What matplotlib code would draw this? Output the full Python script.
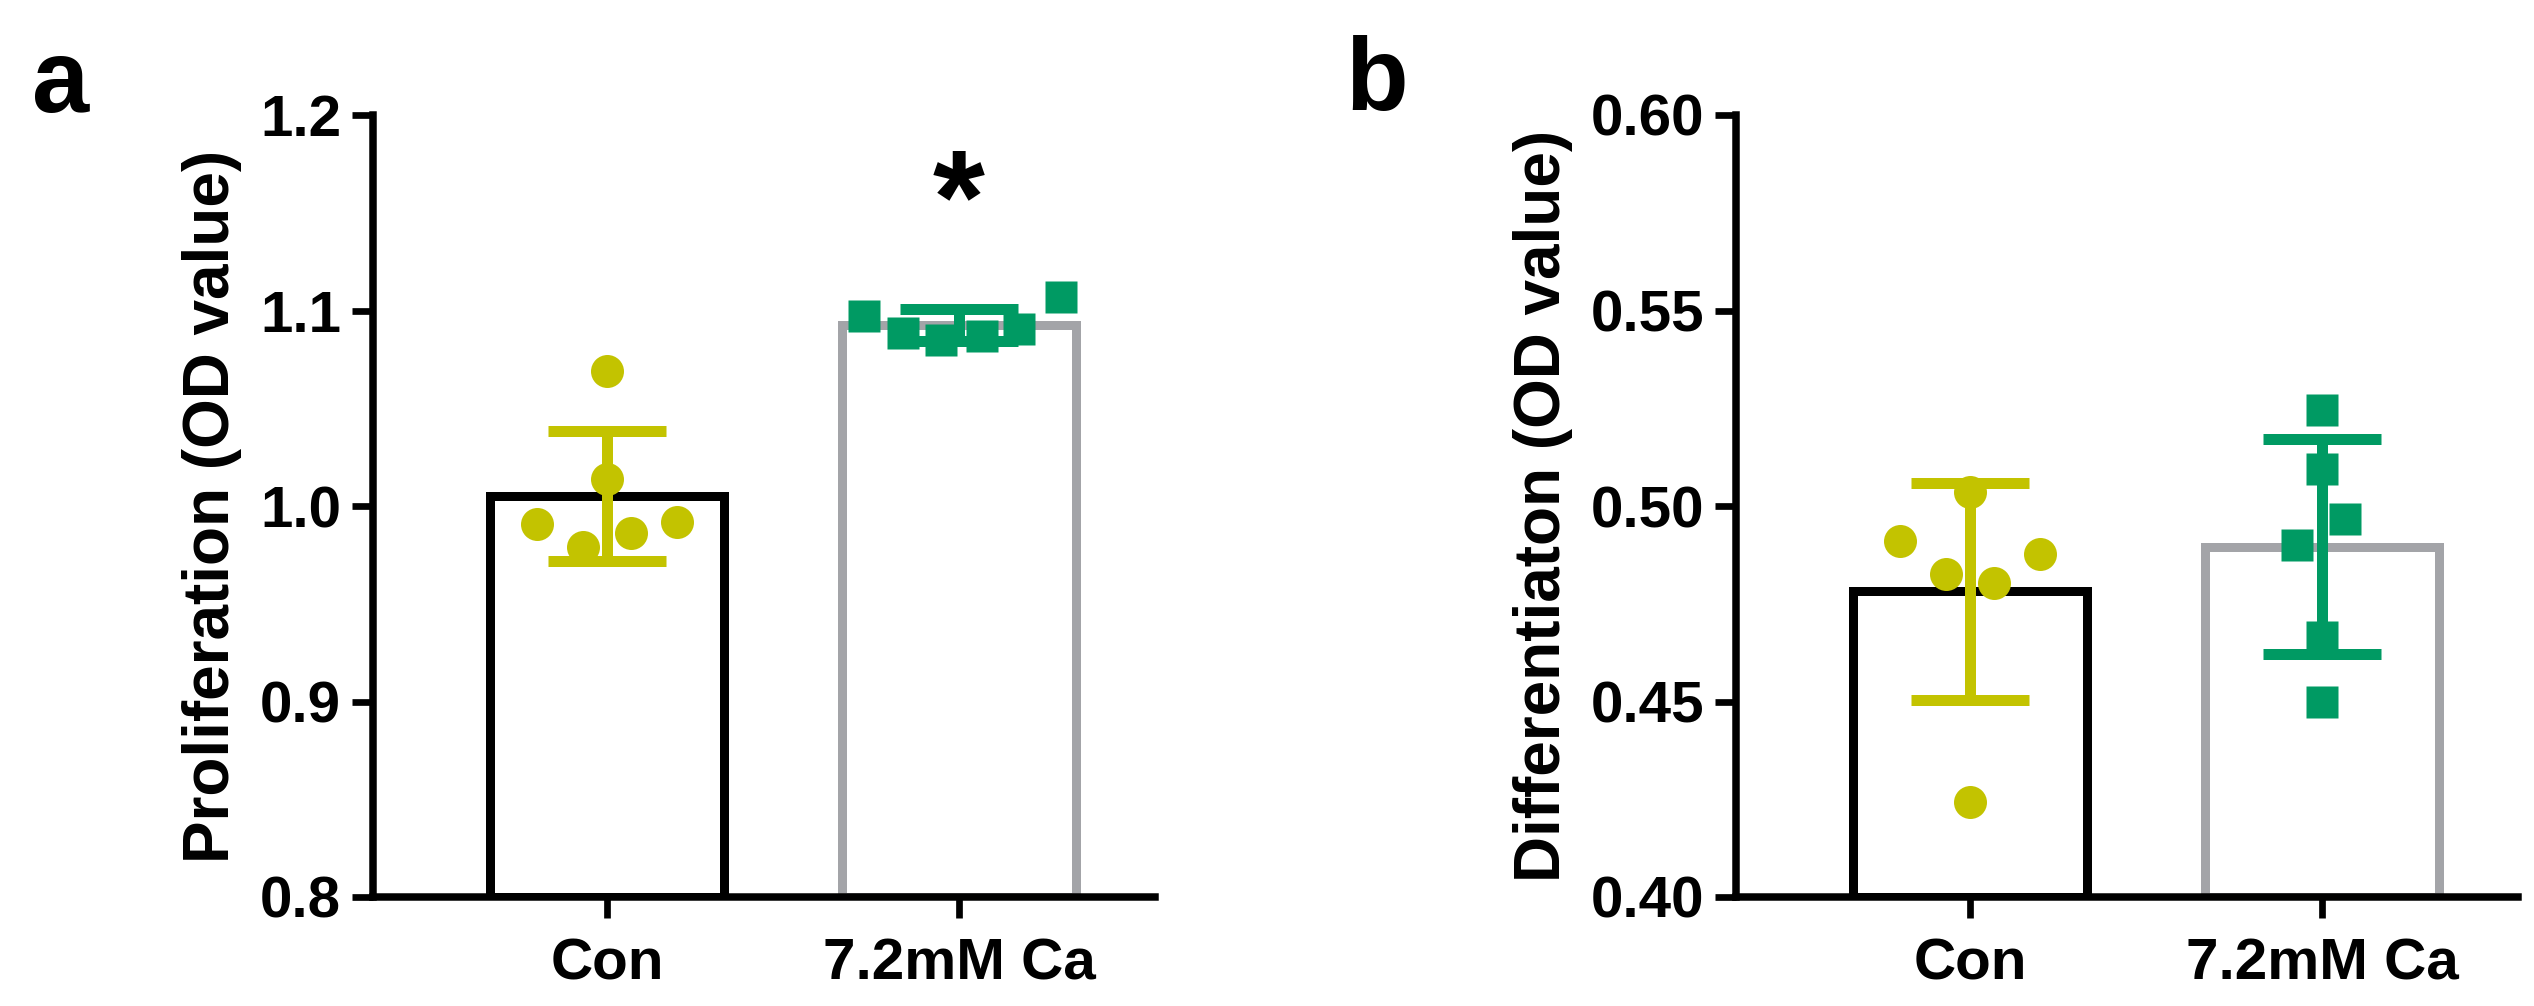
import numpy as np
import matplotlib
matplotlib.use("Agg")
import matplotlib.pyplot as plt

plt.rcParams['font.family'] = ['Liberation Sans', 'DejaVu Sans']
plt.rcParams['font.weight'] = 'bold'

groups = ["Con", "7.2mM Ca"]

# panel a - proliferation (OD value), one value per well
prolif_con = [1.069, 1.014, 0.991, 0.979, 0.986, 0.992]
prolif_ca = [1.097, 1.0885, 1.085, 1.087, 1.0905, 1.107]
prolif_ticks = [0.8, 0.9, 1.0, 1.1, 1.2]

# panel b - differentiation (OD value)
diff_con = [0.5037, 0.4911, 0.4826, 0.4802, 0.4876, 0.4242]
diff_ca = [0.5246, 0.5095, 0.4966, 0.4900, 0.4666, 0.4499]
diff_ticks = [0.40, 0.45, 0.50, 0.55, 0.60]

# horizontal scatter of the dots inside each group (category units)
prolif_con_dx = [0.0, 0.0, -0.2, -0.067, 0.067, 0.2]
prolif_ca_dx = [-0.27, -0.16, -0.05, 0.065, 0.17, 0.29]
diff_con_dx = [0.0, -0.2, -0.067, 0.067, 0.2, 0.0]
diff_ca_dx = [0.0, 0.0, 0.065, -0.07, 0.0, 0.0]

OLIVE = '#C3C300'
GREEN = '#009A63'
GREY = '#A3A4A8'

W, H = 2534, 1006
fig = plt.figure(figsize=(W / 100, H / 100), dpi=100)


def px(v):
    return v * 0.72  # pixels -> points at dpi 100


def panel(left_px, con, con_dx, ca, ca_dx, ticks, fmt, ylabel, label_x):
    ax = fig.add_axes([left_px / W, (H - 897) / H, 782 / W, 782 / H])
    ymin, ymax = ticks[0], ticks[-1]
    samples = [np.array(con), np.array(ca)]
    means = [s.mean() for s in samples]
    sds = [s.std(ddof=1) for s in samples]
    x = np.arange(len(groups))

    ax.bar(x, [m - ymin for m in means], bottom=ymin, width=0.665,
           fill=False, edgecolor=['black', GREY], linewidth=px(9), zorder=1)

    for i, (col, mk, dx) in enumerate([(OLIVE, 'o', con_dx), (GREEN, 's', ca_dx)]):
        ax.errorbar(x[i], means[i], yerr=sds[i], color=col, elinewidth=px(11),
                    capsize=px(59), capthick=px(11), zorder=2)
        ax.plot(x[i] + np.array(dx), samples[i], mk, color=col, mec='none',
                ms=px(33) if mk == 'o' else px(32), zorder=3, clip_on=False)

    ax.set_xlim(-0.665, 1.557)
    ax.set_ylim(ymin, ymax)
    ax.set_xticks(x)
    ax.set_xticklabels(groups)
    ax.set_yticks(ticks)
    ax.set_yticklabels([fmt.format(t) for t in ticks])
    for s in ['top', 'right']:
        ax.spines[s].set_visible(False)
    for s in ['left', 'bottom']:
        ax.spines[s].set_linewidth(px(7.5))
    ax.tick_params(axis='both', length=px(21), width=px(6.7), labelsize=42)
    ax.tick_params(axis='y', pad=px(11))
    ax.tick_params(axis='x', pad=px(19))
    ax.set_ylabel(ylabel, fontsize=46, fontweight='bold')
    ax.yaxis.set_label_coords(label_x, 0.5)
    return ax


ax1 = panel(373, prolif_con, prolif_con_dx, prolif_ca, prolif_ca_dx,
            prolif_ticks, "{:.1f}", "Proliferation (OD value)", -0.1675)
ax1.text(1, 1.135, '*', fontsize=96, fontweight='bold', ha='center', va='baseline')

ax2 = panel(1736, diff_con, diff_con_dx, diff_ca, diff_ca_dx,
            diff_ticks, "{:.2f}", "Differentiaton (OD value)", -0.208)

fig.text(32 / W, 1 - 112 / H, 'a', fontsize=74, fontweight='bold', ha='left', va='baseline')
fig.text(1345 / W, 1 - 110 / H, 'b', fontsize=74, fontweight='bold', ha='left', va='baseline')

fig.savefig('out.png', dpi=100)
